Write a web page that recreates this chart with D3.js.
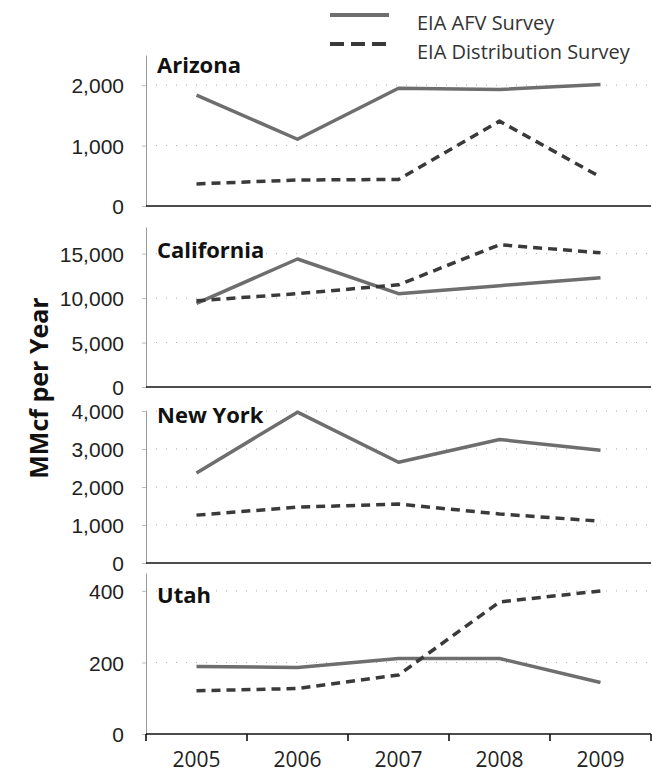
<!DOCTYPE html>
<html>
<head>
<meta charset="utf-8">
<script src="https://cdn.jsdelivr.net/npm/d3@7"></script>
<style>
  body { margin: 0; background: #fff; }
  svg { display: block; font-family: 'Open Sans', sans-serif; }
</style>
</head>
<body>
<svg id="chart" width="652" height="778"></svg>
<script>
// data (MMcf per year)
const years = ['2005', '2006', '2007', '2008', '2009']
const states = ['Arizona', 'California', 'New York', 'Utah']
const afv_arizona = [1835, 1105, 1950, 1930, 2010]
const dist_arizona = [365, 430, 440, 1405, 480]
const afv_california = [9400, 14400, 10500, 11400, 12300]
const dist_california = [9700, 10500, 11500, 16000, 15100]
const afv_newyork = [2370, 3970, 2650, 3250, 2970]
const dist_newyork = [1260, 1470, 1550, 1290, 1100]
const afv_utah = [189, 186, 211, 211, 144]
const dist_utah = [121, 127, 165, 369, 400]
const ymax = [2500, 18000, 4000, 450]
const yticks = [[0, 1000, 2000], [0, 5000, 10000, 15000], [0, 1000, 2000, 3000, 4000], [0, 200, 400]]
const series_names = ['EIA AFV Survey', 'EIA Distribution Survey']

const afv = [afv_arizona, afv_california, afv_newyork, afv_utah]
const dist = [dist_arizona, dist_california, dist_newyork, dist_utah]

/* layout of the four stacked panels */
const panels = [
  {top: 55, bottom: 206, title: 73},
  {top: 227, bottom: 387, title: 258},
  {top: 411, bottom: 563, title: 423},
  {top: 573, bottom: 734, title: 603}
]
const left = 146, right = 651

const svg = d3.select('#chart')

const x = d3.scaleBand()
  .domain(years)
  .range([left, right])

const line_styles = [
  {stroke: '#6e6e6e', width: 3.5, dash: null},
  {stroke: '#3a3a3a', width: 3.5, dash: '9,6'}
]

states.forEach((st, i) => {
  const p = panels[i]
  const y = d3.scaleLinear()
    .domain([0, ymax[i]])
    .range([p.bottom, p.top])

  const g = svg.append('g').classed('panel', true)

  // dotted gridlines
  g.selectAll('.grid')
    .data(yticks[i].filter(t => t > 0))
    .enter()
    .append('line')
    .classed('grid', true)
    .attr('x1', left).attr('x2', right)
    .attr('y1', d => y(d)).attr('y2', d => y(d))
    .attr('stroke', '#aaa')
    .attr('stroke-width', 1)
    .attr('stroke-dasharray', '1,9')

  // y axis
  const axisY = g.append('g')
    .attr('transform', `translate(${left},0)`)
    .call(d3.axisLeft(y).tickValues(yticks[i]).tickFormat(d3.format(',')).tickSize(4).tickPadding(18).tickSizeOuter(0))
  axisY.select('.domain').attr('stroke', '#999').attr('stroke-width', 1)
  axisY.selectAll('.tick line').attr('stroke', '#bbb')
  axisY.selectAll('.tick text')
    .attr('font-size', 21)
    .attr('fill', '#222')
    .attr('dy', '0.36em')

  // zero line
  g.append('line')
    .attr('x1', left).attr('x2', right)
    .attr('y1', y(0)).attr('y2', y(0))
    .attr('stroke', '#111')
    .attr('stroke-width', 1.6)

  // series
  const line = d3.line()
    .x((d, j) => x(years[j]) + x.bandwidth() / 2)
    .y(d => y(d))

  ;[afv[i], dist[i]].forEach((vals, k) => {
    const s = line_styles[k]
    g.append('path')
      .datum(vals)
      .attr('d', line)
      .attr('fill', 'none')
      .attr('stroke', s.stroke)
      .attr('stroke-width', s.width)
      .attr('stroke-dasharray', s.dash)
      .attr('stroke-linejoin', 'round')
  })

  // title
  g.append('text')
    .text(st)
    .attr('x', 157)
    .attr('y', p.title)
    .attr('font-size', 22)
    .attr('font-weight', 'bold')
    .attr('fill', '#111')

  // x axis on the bottom panel only
  if (i === states.length - 1) {
    const ticks = svg.append('g')
    const bounds = years.map(d => x(d)).concat([right])
    ticks.selectAll('line')
      .data(bounds)
      .enter()
      .append('line')
      .attr('x1', d => d).attr('x2', d => d)
      .attr('y1', p.bottom).attr('y2', p.bottom + 7)
      .attr('stroke', '#111')
      .attr('stroke-width', 1.6)
    ticks.selectAll('text')
      .data(years)
      .enter()
      .append('text')
      .text(d => d)
      .attr('x', d => x(d) + x.bandwidth() / 2)
      .attr('y', 767)
      .attr('text-anchor', 'middle')
      .attr('font-size', 21)
      .attr('fill', '#222')
  }
})

// y axis title
svg.append('text')
  .text('MMcf per Year')
  .attr('transform', 'translate(48,388) rotate(-90)')
  .attr('text-anchor', 'middle')
  .attr('font-size', 25)
  .attr('font-weight', 'bold')
  .attr('fill', '#111')

// legend
const legend = svg.append('g')
series_names.forEach((nm, k) => {
  const s = line_styles[k]
  const ly = 15 + k * 29
  legend.append('line')
    .attr('x1', 330).attr('x2', 389)
    .attr('y1', ly).attr('y2', ly)
    .attr('stroke', s.stroke)
    .attr('stroke-width', 4)
    .attr('stroke-dasharray', s.dash ? '14,7' : null)
  legend.append('text')
    .text(nm)
    .attr('x', 417)
    .attr('y', ly + 15)
    .attr('font-size', 20)
    .attr('fill', '#333')
})
</script>
</body>
</html>
